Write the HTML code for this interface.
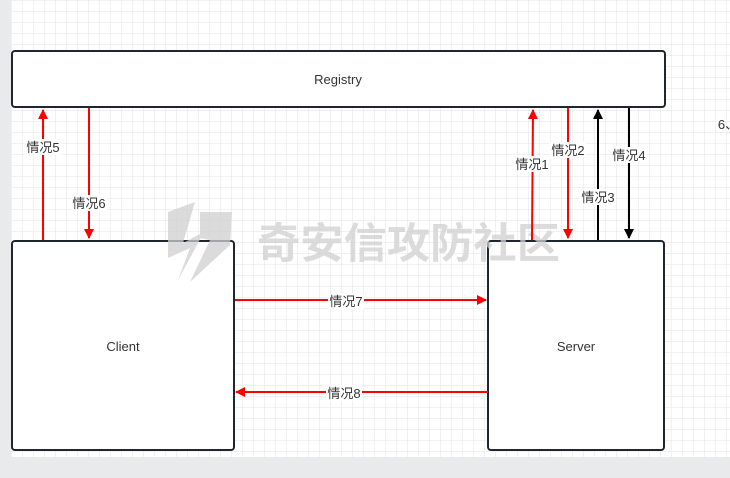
<!DOCTYPE html>
<html><head><meta charset="utf-8"><style>
body{margin:0;width:730px;height:478px;overflow:hidden;background:#e9eaec;font-family:"Liberation Sans","Noto Sans CJK SC",sans-serif}
</style></head><body>
<svg width="730" height="478" xmlns="http://www.w3.org/2000/svg" style="position:absolute;left:0;top:0">
<defs>
<pattern id="g" x="11" y="0" width="11" height="11" patternUnits="userSpaceOnUse">
<rect width="11" height="11" fill="#fff"/><path d="M0 0H11M0 0V11" stroke="#e3e3e3" stroke-width="1"/></pattern>
<marker id="r" markerWidth="10" markerHeight="10" refX="9" refY="5" orient="auto" markerUnits="userSpaceOnUse"><path d="M0 0L10 5L0 10Z" fill="#f00"/></marker>
<marker id="k" markerWidth="10" markerHeight="10" refX="9" refY="5" orient="auto" markerUnits="userSpaceOnUse"><path d="M0 0L10 5L0 10Z" fill="#000"/></marker>
</defs>
<rect x="11" y="0" width="719" height="457" fill="url(#g)"/>
<g fill="#fff" stroke="#1f262d" stroke-width="2">
<rect x="12" y="51" width="653" height="56" rx="3"/>
<rect x="12" y="241" width="222" height="209" rx="3"/>
<rect x="488" y="241" width="176" height="209" rx="3"/>
</g>
<g font-size="13" fill="#333" text-anchor="middle">
<text x="338" y="84">Registry</text><text x="123" y="351">Client</text><text x="576" y="351">Server</text>
</g>
<g opacity="0.75">
<text x="257" y="258" font-size="42" fill="#cfcfcf" textLength="303" lengthAdjust="spacingAndGlyphs" font-family="Noto Sans CJK SC,sans-serif" font-weight="bold">奇安信攻防社区</text>
<path d="M168 212L195 202L183 243L204 232L178 280L190 248L168 258Z" fill="#cfcfcf"/>
<path d="M200 212L232 212L230 245L190 282L210 240L200 238Z" fill="#cfcfcf"/>
</g>
<g stroke="#f00" stroke-width="2" fill="none">
<line x1="43" y1="240" x2="43" y2="110" marker-end="url(#r)"/>
<line x1="89" y1="108" x2="89" y2="238" marker-end="url(#r)"/>
<line x1="532" y1="240" x2="533" y2="110" marker-end="url(#r)"/>
<line x1="568" y1="108" x2="568" y2="238" marker-end="url(#r)"/>
<line x1="235" y1="300" x2="486" y2="300" marker-end="url(#r)"/>
<line x1="488" y1="392" x2="236" y2="392" marker-end="url(#r)"/>
</g>
<g stroke="#000" stroke-width="2">
<line x1="598" y1="240" x2="598" y2="110" marker-end="url(#k)"/>
<line x1="629" y1="108" x2="629" y2="238" marker-end="url(#k)"/>
</g>
<g font-size="13" fill="#333" text-anchor="middle">
<g fill="#fff"><rect x="25" y="139" width="36" height="16"/><rect x="71" y="195" width="36" height="16"/><rect x="514" y="156" width="36" height="16"/><rect x="550" y="142" width="36" height="16"/><rect x="580" y="189" width="36" height="16"/><rect x="611" y="147" width="36" height="16"/><rect x="328" y="293" width="36" height="16"/><rect x="326" y="385" width="36" height="16"/></g>
<text x="43" y="152">情况5</text><text x="89" y="208">情况6</text><text x="532" y="169">情况1</text><text x="568" y="155">情况2</text><text x="598" y="202">情况3</text><text x="629" y="160">情况4</text><text x="346" y="306">情况7</text><text x="344" y="398">情况8</text>
<text x="728" y="129">6、</text>
</g>
</svg>
</body></html>
